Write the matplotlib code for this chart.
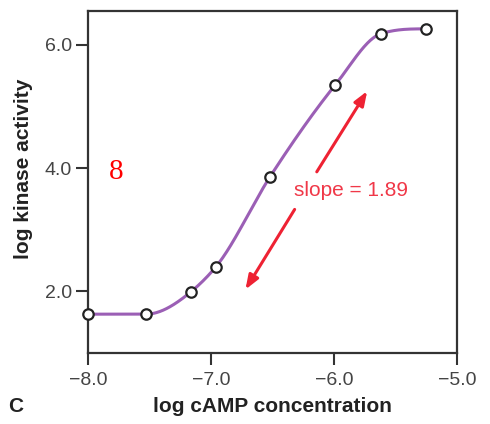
import numpy as np
import matplotlib
matplotlib.use("Agg")
import matplotlib.pyplot as plt

# data
log_camp = [-8.0, -7.53, -7.165, -6.96, -6.52, -5.99, -5.62, -5.255]
log_kinase = [1.63, 1.63, 1.99, 2.40, 3.86, 5.35, 6.18, 6.26]
x_ticks = [-8.0, -7.0, -6.0, -5.0]
y_ticks = [2.0, 4.0, 6.0]
slope_label = "slope = 1.89"


def smooth_through(x, y, xn):
    """Monotone cubic Hermite curve through the points
    (3-point derivatives, Fritsch-Carlson limited)."""
    x = np.asarray(x, float)
    y = np.asarray(y, float)
    h = np.diff(x)
    d = np.diff(y) / h
    n = len(x)
    m = np.zeros(n)
    for k in range(1, n - 1):
        m[k] = (h[k] * d[k - 1] + h[k - 1] * d[k]) / (h[k - 1] + h[k])

    def end(h0, h1, d0, d1):
        mm = ((2 * h0 + h1) * d0 - h0 * d1) / (h0 + h1)
        return mm if np.sign(mm) == np.sign(d0) and d0 != 0 else 0.0

    m[0] = end(h[0], h[1], d[0], d[1])
    m[-1] = end(h[-1], h[-2], d[-1], d[-2])
    for k in range(n - 1):
        if d[k] == 0:
            m[k] = m[k + 1] = 0.0
            continue
        a, b = m[k] / d[k], m[k + 1] / d[k]
        s = a * a + b * b
        if s > 9:
            tau = 3 / np.sqrt(s)
            m[k] = tau * a * d[k]
            m[k + 1] = tau * b * d[k]
    idx = np.clip(np.searchsorted(x, xn) - 1, 0, n - 2)
    t = (xn - x[idx]) / h[idx]
    h00 = 2 * t**3 - 3 * t**2 + 1
    h10 = t**3 - 2 * t**2 + t
    h01 = -2 * t**3 + 3 * t**2
    h11 = t**3 - t**2
    return (h00 * y[idx] + h10 * h[idx] * m[idx] + h01 * y[idx + 1]
            + h11 * h[idx] * m[idx + 1])


W, H = 490, 424
fig = plt.figure(figsize=(W / 100, H / 100), dpi=100)
ax = fig.add_axes([88 / W, 1 - 353 / H, (457 - 88) / W, (353 - 11) / H])

xs = np.linspace(log_camp[0], log_camp[-1], 500)
ax.plot(xs, smooth_through(log_camp, log_kinase, xs), color="#9b5fb5",
        lw=2.2, zorder=2, clip_on=False)
ax.plot(log_camp, log_kinase, "o", ms=7.5, mfc="white", mec="#222222",
        mew=1.6, zorder=3, clip_on=False)

ax.set_xlim(-8.0, -5.0)
ax.set_ylim(1.0, 6.55)
ax.set_xticks(x_ticks)
ax.set_yticks(y_ticks)
ax.set_xticklabels(["\u22128.0", "\u22127.0", "\u22126.0", "\u22125.0"])
ax.set_yticklabels([f"{v:.1f}" for v in y_ticks])
for s in ax.spines.values():
    s.set_linewidth(1.6)
    s.set_color("#333333")
ax.tick_params(direction="out", length=8.5, width=1.5, color="#333333",
               labelsize=14, labelcolor="#444444", pad=3,
               labelfontfamily="Liberation Sans")
ax.tick_params(axis="x", pad=5)

red = "#ee2233"
ax.annotate("", xy=(-5.73, 5.25), xytext=(-6.14, 3.94),
            arrowprops=dict(arrowstyle="-|>,head_length=0.85,head_width=0.32",
                            color=red, lw=2.2, shrinkA=0, shrinkB=0))
ax.annotate("", xy=(-6.72, 2.03), xytext=(-6.32, 3.33),
            arrowprops=dict(arrowstyle="-|>,head_length=0.85,head_width=0.32",
                            color=red, lw=2.2, shrinkA=0, shrinkB=0))
ax.text(-5.862, 3.63, slope_label, color="#f03848", fontsize=15,
        family="Liberation Sans", ha="center", va="center")

fig.text(116 / W, 1 - 172 / H, "8", color="red", fontsize=21,
         family="Liberation Serif", ha="center", va="center")

fig.text(272 / W, 1 - 407 / H, "log cAMP concentration", fontsize=15,
         fontweight="bold", family="Liberation Sans", color="#222222",
         ha="center", va="center")
fig.text(24 / W, 1 - 169 / H, "log kinase activity", fontsize=15,
         fontweight="bold", family="Liberation Sans", color="#222222",
         rotation=90, ha="center", va="center")
fig.text(16 / W, 1 - 406 / H, "C", fontsize=15, fontweight="bold",
         family="Liberation Sans", color="#222222", ha="center", va="center")

fig.savefig("out.png", dpi=100)
